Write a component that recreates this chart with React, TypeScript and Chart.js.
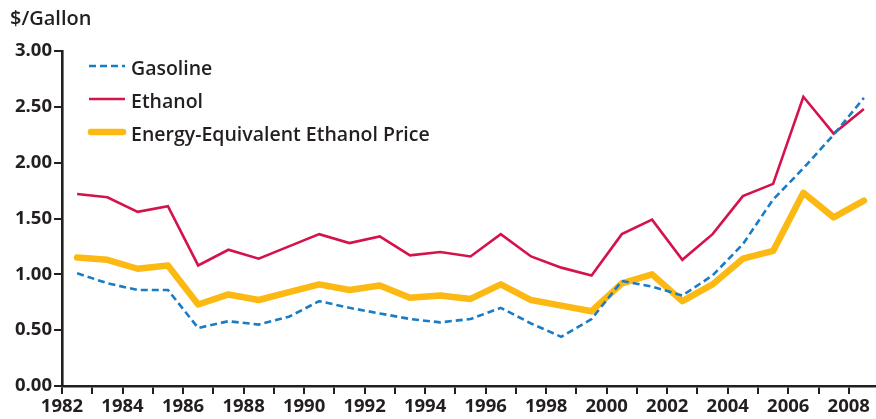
import React, { useEffect, useRef } from "react";
import { Chart, registerables } from "chart.js";

Chart.register(...registerables);

const years = [1982, 1983, 1984, 1985, 1986, 1987, 1988, 1989, 1990, 1991, 1992, 1993, 1994, 1995, 1996, 1997, 1998, 1999, 2000, 2001, 2002, 2003, 2004, 2005, 2006, 2007, 2008];
const gasoline = [1.01, 0.92, 0.86, 0.86, 0.52, 0.58, 0.55, 0.62, 0.76, 0.70, 0.65, 0.60, 0.57, 0.60, 0.70, 0.56, 0.44, 0.60, 0.94, 0.89, 0.81, 0.99, 1.27, 1.67, 1.95, 2.25, 2.58];
const ethanol = [1.72, 1.69, 1.56, 1.61, 1.08, 1.22, 1.14, 1.25, 1.36, 1.28, 1.34, 1.17, 1.20, 1.16, 1.36, 1.16, 1.06, 0.99, 1.36, 1.49, 1.13, 1.36, 1.70, 1.81, 2.59, 2.26, 2.48];
const energyEq = [1.15, 1.13, 1.05, 1.08, 0.73, 0.82, 0.77, 0.84, 0.91, 0.86, 0.90, 0.79, 0.81, 0.78, 0.91, 0.77, 0.72, 0.67, 0.92, 1.00, 0.76, 0.91, 1.14, 1.21, 1.73, 1.51, 1.66];
const yTicks = [0, 0.5, 1, 1.5, 2, 2.5, 3];
const seriesNames = ["Gasoline", "Ethanol", "Energy-Equivalent Ethanol Price"];
const yTitle = "$/Gallon";

const BLUE = "#1a7cc4";
const RED = "#d4124b";
const ORANGE = "#fdb913";
const INK = "#231f20";
const FONT = "'Open Sans', 'DejaVu Sans', sans-serif";

const toPts = (vals: number[]) => years.map((y, i) => ({ x: y + 0.5, y: vals[i] }));

const overlayPlugin = {
  id: "overlay",
  afterDraw(chart: any) {
    const ctx = chart.ctx;
    ctx.save();
    ctx.fillStyle = INK;
    ctx.font = `600 20px ${FONT}`;
    ctx.textBaseline = "alphabetic";
    ctx.textAlign = "left";
    ctx.fillText(yTitle, 10, 25);

    const items = [
      { color: BLUE, width: 2.6, dash: [7, 4], cap: "butt" },
      { color: RED, width: 2.6, dash: [], cap: "butt" },
      { color: ORANGE, width: 6.5, dash: [], cap: "round" },
    ];
    items.forEach((it, i) => {
      const y = 66 + i * 33;
      ctx.beginPath();
      ctx.setLineDash(it.dash);
      ctx.lineWidth = it.width;
      ctx.strokeStyle = it.color;
      ctx.lineCap = it.cap;
      ctx.moveTo(it.cap === "round" ? 91 : 89, y);
      ctx.lineTo(it.cap === "round" ? 123 : 125, y);
      ctx.stroke();
      ctx.setLineDash([]);
      ctx.fillStyle = INK;
      ctx.font = `600 19.5px ${FONT}`;
      ctx.fillText(seriesNames[i], 131, y + 9);
    });
    ctx.restore();
  },
};

export default function App() {
  const ref = useRef<HTMLCanvasElement>(null);
  useEffect(() => {
    if (!ref.current) return;
    const chart = new Chart(ref.current, {
      type: "line",
      data: {
        datasets: [
          {
            label: seriesNames[0],
            data: toPts(gasoline),
            borderColor: BLUE,
            borderWidth: 2.6,
            borderDash: [7, 4],
            pointRadius: 0,
            tension: 0,
            fill: false,
          },
          {
            label: seriesNames[1],
            data: toPts(ethanol),
            borderColor: RED,
            borderWidth: 2.6,
            pointRadius: 0,
            tension: 0,
            fill: false,
          },
          {
            label: seriesNames[2],
            data: toPts(energyEq),
            borderColor: ORANGE,
            borderWidth: 6.5,
            borderJoinStyle: "round",
            borderCapStyle: "round",
            pointRadius: 0,
            tension: 0,
            fill: false,
          },
        ],
      },
      options: {
        animation: false,
        responsive: false,
        maintainAspectRatio: false,
        layout: { padding: { top: 51, left: 0, right: 0, bottom: 0 } },
        plugins: { legend: { display: false }, tooltip: { enabled: false }, title: { display: false } },
        scales: {
          x: {
            type: "linear",
            min: 1982,
            max: 2008.9,
            afterFit: (s: any) => { s.height = 33; },
            afterBuildTicks: (s: any) => {
              s.ticks = years.map((y) => ({ value: y }));
            },
            border: { display: true, color: INK, width: 2.6 },
            grid: { drawOnChartArea: false, drawTicks: true, tickLength: 8, color: INK, lineWidth: 2 },
            ticks: {
              autoSkip: false,
              maxRotation: 0,
              minRotation: 0,
              padding: 2,
              color: INK,
              font: { family: FONT, size: 18.5, weight: "700" },
              callback: (v: any) => (Number(v) % 2 === 0 ? String(v) : ""),
            },
          },
          y: {
            type: "linear",
            min: 0,
            max: 3,
            afterFit: (s: any) => { s.width = 62; },
            afterBuildTicks: (s: any) => {
              s.ticks = yTicks.map((v) => ({ value: v }));
            },
            border: { display: true, color: INK, width: 2.6 },
            grid: { drawOnChartArea: false, drawTicks: true, tickLength: 8, color: INK, lineWidth: 2 },
            ticks: {
              padding: 2,
              color: INK,
              font: { family: FONT, size: 18.5, weight: "700" },
              callback: (v: any) => Number(v).toFixed(2),
            },
          },
        },
      },
      plugins: [overlayPlugin],
    });
    return () => chart.destroy();
  }, []);
  return (
    <div style={{ position: "fixed", left: 0, top: 0, width: 876, height: 419, background: "#fff" }}>
      <canvas ref={ref} width={876} height={419} style={{ width: 876, height: 419, display: "block" }} />
    </div>
  );
}
